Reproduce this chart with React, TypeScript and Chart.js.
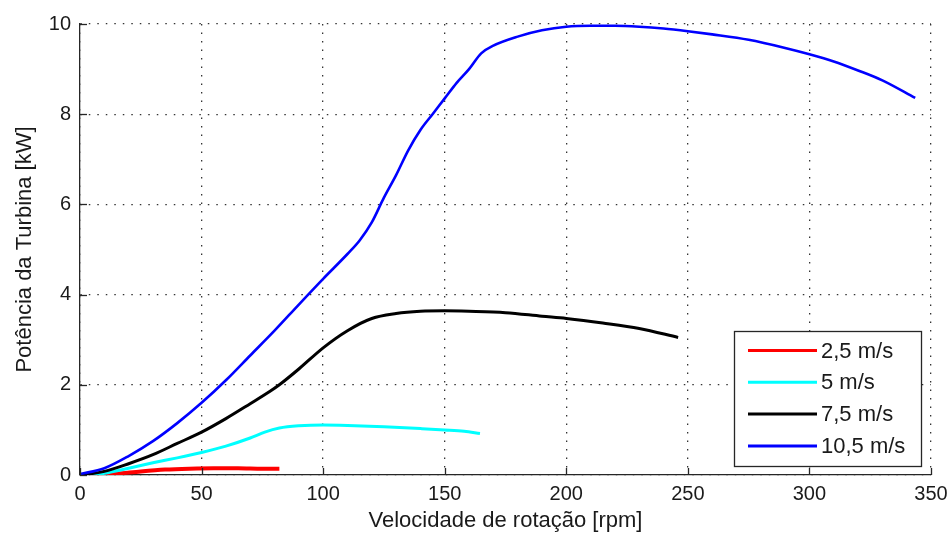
import { useEffect, useRef } from "react";
import { Chart, registerables } from "chart.js";

Chart.register(...registerables);

// Rotor speed [rpm] and turbine power [kW] for each wind speed
const rpm25 = [6, 15, 25, 35, 45, 55, 65, 75, 82];
const kw25 = [0, 0.03, 0.08, 0.12, 0.14, 0.15, 0.15, 0.14, 0.14];

const rpm5 = [4, 10, 20, 30, 40, 50, 60, 70, 76, 82, 90, 100, 110, 125, 140, 150, 158, 164.5];
const kw5 = [0, 0.04, 0.15, 0.27, 0.38, 0.5, 0.64, 0.82, 0.95, 1.04, 1.09, 1.11, 1.1, 1.07, 1.03, 1.0, 0.97, 0.92];

const rpm75 = [1, 10, 20, 30, 40, 50, 60, 70, 78, 82, 90, 100, 110, 120, 130, 140, 150, 160, 175, 190, 200, 215, 230, 246];
const kw75 = [0, 0.08, 0.25, 0.45, 0.7, 0.95, 1.25, 1.58, 1.85, 2.0, 2.35, 2.82, 3.2, 3.47, 3.58, 3.63, 3.64, 3.63, 3.6, 3.52, 3.47, 3.37, 3.25, 3.05];

const rpm105 = [0, 10, 20, 30, 40, 50, 60, 70, 80, 90, 100, 110, 115, 120, 125, 130, 135, 140, 145, 150, 155, 160, 165, 170, 180, 190, 200, 210, 220, 230, 240, 250, 260, 275, 290, 300, 310, 320, 330, 343.5];
const kw105 = [0.02, 0.15, 0.42, 0.75, 1.15, 1.6, 2.1, 2.65, 3.2, 3.78, 4.35, 4.9, 5.2, 5.6, 6.15, 6.65, 7.2, 7.65, 8.0, 8.35, 8.7, 9.0, 9.35, 9.52, 9.72, 9.86, 9.94, 9.96, 9.96, 9.94, 9.9, 9.84, 9.77, 9.65, 9.47, 9.33, 9.17, 8.97, 8.75, 8.36];

const seriesLabels = ["2,5 m/s", "5 m/s", "7,5 m/s", "10,5 m/s"];
const seriesColors = ["#ff0000", "#00ffff", "#000000", "#0000ff"];
const seriesWidths = [4, 3, 3, 2.6];
const seriesRpm = [rpm25, rpm5, rpm75, rpm105];
const seriesKw = [kw25, kw5, kw75, kw105];

const xTicks = [0, 50, 100, 150, 200, 250, 300, 350];
const yTicks = [0, 2, 4, 6, 8, 10];

const xTitle = "Velocidade de rotação [rpm]";
const yTitle = "Potência da Turbina [kW]";

const FONT = "'Liberation Sans', Arial, Helvetica, sans-serif";
const AXIS_COLOR = "#262626";

// Inward tick marks on the left and bottom axes, plus the boxed legend
const axesDecor = {
  id: "axesDecor",
  afterDatasetsDraw(chart: any) {
    const { ctx, chartArea, scales } = chart;
    const tickLen = 7;
    ctx.save();
    ctx.strokeStyle = AXIS_COLOR;
    ctx.lineWidth = 1.3;
    for (const v of xTicks) {
      const px = Math.round(scales.x.getPixelForValue(v)) + 0.5;
      ctx.beginPath();
      ctx.moveTo(px, chartArea.bottom);
      ctx.lineTo(px, chartArea.bottom - tickLen);
      ctx.stroke();
    }
    for (const v of yTicks) {
      const py = Math.round(scales.y.getPixelForValue(v)) + 0.5;
      ctx.beginPath();
      ctx.moveTo(chartArea.left, py);
      ctx.lineTo(chartArea.left + tickLen, py);
      ctx.stroke();
    }

    // legend box
    const boxW = 187;
    const boxH = 135;
    const boxRight = chartArea.right - 10;
    const boxBottom = chartArea.bottom - 9;
    const bx = boxRight - boxW;
    const by = boxBottom - boxH;
    ctx.fillStyle = "#ffffff";
    ctx.fillRect(bx, by, boxW, boxH);
    ctx.strokeStyle = AXIS_COLOR;
    ctx.lineWidth = 1.3;
    ctx.strokeRect(Math.round(bx) + 0.5, Math.round(by) + 0.5, boxW, boxH);

    ctx.font = `22px ${FONT}`;
    ctx.textBaseline = "middle";
    ctx.textAlign = "left";
    chart.data.datasets.forEach((ds: any, i: number) => {
      const rowY = by + 19.5 + i * 31.8;
      ctx.strokeStyle = ds.borderColor;
      ctx.lineWidth = 3;
      ctx.beginPath();
      ctx.moveTo(bx + 14, rowY);
      ctx.lineTo(bx + 83, rowY);
      ctx.stroke();
      ctx.fillStyle = "#1a1a1a";
      ctx.fillText(ds.label, bx + 87, rowY + 1);
    });
    ctx.restore();
  },
};

export default function App() {
  const canvasRef = useRef<HTMLCanvasElement | null>(null);

  useEffect(() => {
    if (!canvasRef.current) return;
    const datasets = seriesLabels.map((label, i) => ({
      label,
      data: seriesRpm[i].map((r, j) => ({ x: r, y: seriesKw[i][j] })),
      borderColor: seriesColors[i],
      backgroundColor: seriesColors[i],
      borderWidth: seriesWidths[i],
      pointRadius: 0,
      fill: false,
      cubicInterpolationMode: "monotone" as const,
      order: seriesLabels.length - 1 - i,
    }));

    const chart = new Chart(canvasRef.current, {
      type: "line",
      data: { datasets },
      plugins: [axesDecor],
      options: {
        animation: false,
        responsive: true,
        maintainAspectRatio: false,
        layout: { padding: { top: 24, right: 18, left: 0, bottom: 0 } },
        plugins: {
          legend: { display: false },
          tooltip: { enabled: false },
        },
        scales: {
          x: {
            type: "linear",
            min: 0,
            max: 350,
            afterBuildTicks: (s: any) => {
              s.ticks = xTicks.map((v) => ({ value: v }));
            },
            afterFit: (s: any) => {
              s.height = 59;
              s.paddingLeft = 0;
              s.paddingRight = 0;
            },
            ticks: {
              padding: 7,
              color: "#1a1a1a",
              font: { family: FONT, size: 20 },
              maxRotation: 0,
            },
            grid: { color: "#333333", lineWidth: 1.3, drawTicks: false },
            border: { display: true, color: AXIS_COLOR, width: 1.3, dash: [1.5, 7] },
            title: {
              display: true,
              text: xTitle,
              color: "#1a1a1a",
              font: { family: FONT, size: 22 },
              padding: { top: 0, bottom: 0 },
            },
          },
          y: {
            type: "linear",
            min: 0,
            max: 10,
            afterBuildTicks: (s: any) => {
              s.ticks = yTicks.map((v) => ({ value: v }));
            },
            afterFit: (s: any) => {
              s.width = 80;
            },
            ticks: {
              padding: 9,
              color: "#1a1a1a",
              font: { family: FONT, size: 20 },
            },
            grid: { color: "#333333", lineWidth: 1.3, drawTicks: false },
            border: { display: true, color: AXIS_COLOR, width: 1.3, dash: [1.5, 7] },
            title: {
              display: true,
              text: yTitle,
              color: "#1a1a1a",
              font: { family: FONT, size: 22 },
              padding: { top: 12, bottom: 0 },
            },
          },
        },
      },
    });
    return () => chart.destroy();
  }, []);

  return (
    <div style={{ position: "absolute", left: 0, top: 0, width: 949, height: 534, background: "#ffffff" }}>
      <canvas ref={canvasRef} />
    </div>
  );
}
